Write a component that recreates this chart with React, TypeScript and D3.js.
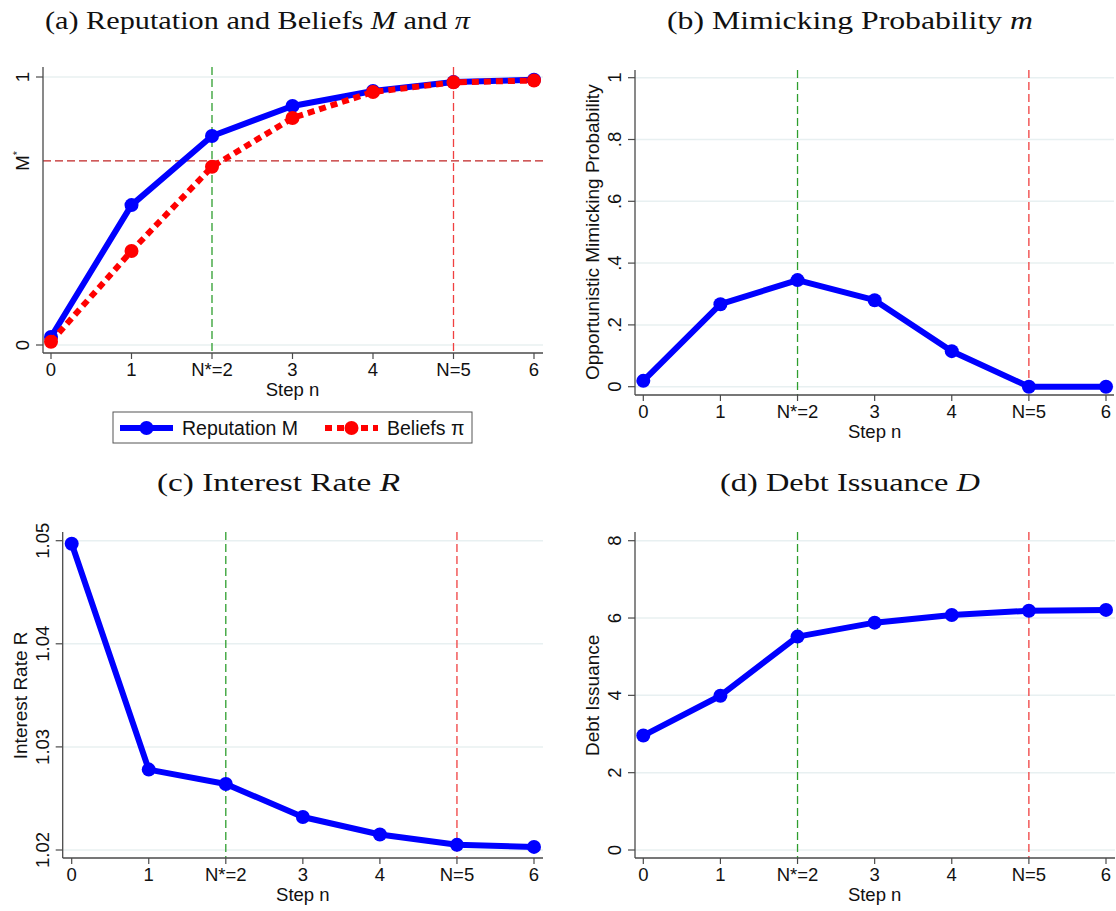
import React from "react";
import * as d3 from "d3";

const steps = [0, 1, 2, 3, 4, 5, 6];
const stepLabels = ["0", "1", "N*=2", "3", "4", "N=5", "6"];
const nStar = 2;
const nBig = 5;
const mStar = 0.687;

const reputationM = [0.03, 0.522, 0.78, 0.892, 0.948, 0.981, 0.99];
const beliefsPi = [0.012, 0.351, 0.665, 0.847, 0.944, 0.98, 0.987];
const mimickingProb = [0.019, 0.267, 0.345, 0.28, 0.115, 0.0, 0.0];
const interestRate = [1.0497, 1.0278, 1.0264, 1.0232, 1.0215, 1.0205, 1.0203];
const debtIssuance = [2.96, 3.99, 5.52, 5.88, 6.08, 6.19, 6.21];

const ticksA = [0, 1];
const ticksB = [0, 0.2, 0.4, 0.6, 0.8, 1];
const tickLabelsB = ["0", ".2", ".4", ".6", ".8", "1"];
const ticksC = [1.02, 1.03, 1.04, 1.05];
const tickLabelsC = ["1.02", "1.03", "1.04", "1.05"];
const ticksD = [0, 2, 4, 6, 8];

const SANS = "'Liberation Sans', Arial, Helvetica, sans-serif";
const SERIF = "'Liberation Serif', 'Times New Roman', serif";
const BLUE = "#0000ff";
const RED = "#ff0000";
const GREEN = "#2e9e2e";
const GRID = "#e8f0f1";
const AXIS = "#4a4a4a";

type Series = { values: number[]; color: string; dash?: string };

type PanelProps = {
  left: number; right: number; top: number; bottom: number;
  x0: number; x6: number; yPx: [number, number]; yDom: [number, number];
  yTicks: number[]; yTickLabels: string[]; series: Series[];
  yTitle?: string; grid: number[]; mStarLine?: number;
};

function Panel(p: PanelProps) {
  const x = d3.scaleLinear().domain([0, 6]).range([p.x0, p.x6]);
  const y = d3.scaleLinear().domain(p.yDom).range(p.yPx);
  const line = d3.line<number>().x((_, i) => x(steps[i])).y((v) => y(v));
  const tickLX = p.left - 14;
  const yMid = (p.yPx[0] + p.yPx[1]) / 2;
  return (
    <g>
      {p.grid.map((t, i) => (
        <line key={"g" + i} x1={p.left} x2={p.right} y1={y(t)} y2={y(t)} stroke={GRID} strokeWidth={1.5} />
      ))}
      {p.mStarLine !== undefined && (
        <line x1={p.left} x2={p.right} y1={y(p.mStarLine)} y2={y(p.mStarLine)} stroke="#c02424" strokeWidth={1.2} strokeDasharray="8,4" />
      )}
      <line x1={x(nStar)} x2={x(nStar)} y1={p.top} y2={p.bottom} stroke={GREEN} strokeWidth={1.3} strokeDasharray="8,4" />
      <line x1={x(nBig)} x2={x(nBig)} y1={p.top} y2={p.bottom} stroke="#f04040" strokeWidth={1.3} strokeDasharray="8,4" />
      <line x1={p.left} x2={p.left} y1={p.top} y2={p.bottom} stroke={AXIS} strokeWidth={1.3} />
      <line x1={p.left} x2={p.right} y1={p.bottom} y2={p.bottom} stroke={AXIS} strokeWidth={1.3} />
      {p.yTicks.map((t, i) => (
        <g key={"yt" + i}>
          <line x1={p.left - 7} x2={p.left} y1={y(t)} y2={y(t)} stroke={AXIS} strokeWidth={1.2} />
          <text transform={`translate(${tickLX},${y(t)}) rotate(-90)`} textAnchor="middle" fontFamily={SANS} fontSize={18.5} fill="#111">
            {p.yTickLabels[i]}
          </text>
        </g>
      ))}
      {p.mStarLine !== undefined && (
        <text transform={`translate(${tickLX},${y(p.mStarLine)}) rotate(-90)`} textAnchor="middle" fontFamily={SANS} fontSize={18.5} fill="#111">
          M<tspan fontSize={11} dy={-8}>*</tspan>
        </text>
      )}
      {steps.map((s, i) => (
        <g key={"xt" + i}>
          <line x1={x(s)} x2={x(s)} y1={p.bottom} y2={p.bottom + 6} stroke={AXIS} strokeWidth={1.2} />
          <text x={x(s)} y={p.bottom + 23} textAnchor="middle" fontFamily={SANS} fontSize={18.5} fill="#111">
            {stepLabels[i]}
          </text>
        </g>
      ))}
      <text x={(p.x0 + p.x6) / 2} y={p.bottom + 43} textAnchor="middle" fontFamily={SANS} fontSize={18.5} fill="#111">
        Step n
      </text>
      {p.yTitle && (
        <text transform={`translate(${p.left - 36},${yMid}) rotate(-90)`} textAnchor="middle" fontFamily={SANS} fontSize={19} fill="#111">
          {p.yTitle}
        </text>
      )}
      {p.series.map((s, k) => (
        <g key={"s" + k}>
          <path d={line(s.values) || ""} fill="none" stroke={s.color} strokeWidth={6} strokeDasharray={s.dash} strokeLinejoin="round" />
          {s.values.map((v, i) => (
            <circle key={i} cx={x(steps[i])} cy={y(v)} r={7} fill={s.color} />
          ))}
        </g>
      ))}
    </g>
  );
}

function Title({ x, y, len, parts }: { x: number; y: number; len: number; parts: [string, boolean][] }) {
  return (
    <text x={x} y={y} fontFamily={SERIF} fontSize={26} fill="#111" textLength={len} lengthAdjust="spacingAndGlyphs">
      {parts.map(([t, it], i) => (
        <tspan key={i} fontStyle={it ? "italic" : "normal"}>{t}</tspan>
      ))}
    </text>
  );
}

export default function App() {
  return (
    <svg width={1116} height={911} style={{ position: "absolute", left: 0, top: 0, background: "#fff" }}>
      <rect width={1116} height={911} fill="#fff" />
      <Title x={45} y={29} len={425} parts={[["(a) Reputation and Beliefs ", false], ["M", true], [" and ", false], ["π", true]]} />
      <Title x={667} y={29} len={366} parts={[["(b) Mimicking Probability ", false], ["m", true]]} />
      <Title x={157} y={491} len={243} parts={[["(c) Interest Rate ", false], ["R", true]]} />
      <Title x={720} y={491} len={260} parts={[["(d) Debt Issuance ", false], ["D", true]]} />

      <Panel left={43} right={543} top={67} bottom={353} x0={51} x6={534} yPx={[345, 77]} yDom={[0, 1]}
        yTicks={ticksA} yTickLabels={["0", "1"]} grid={ticksA} mStarLine={mStar}
        series={[{ values: reputationM, color: BLUE }, { values: beliefsPi, color: RED, dash: "7,5" }]} />
      <Panel left={635} right={1114} top={70} bottom={395} x0={643.3} x6={1106} yPx={[386.7, 77.7]} yDom={[0, 1]}
        yTicks={ticksB} yTickLabels={tickLabelsB} grid={ticksB} yTitle="Opportunistic Mimicking Probability"
        series={[{ values: mimickingProb, color: BLUE }]} />
      <Panel left={62.7} right={543} top={532} bottom={858} x0={71.7} x6={534} yPx={[850, 540.7]} yDom={[1.02, 1.05]}
        yTicks={ticksC} yTickLabels={tickLabelsC} grid={ticksC} yTitle="Interest Rate R"
        series={[{ values: interestRate, color: BLUE }]} />
      <Panel left={635} right={1115} top={532} bottom={858} x0={643.3} x6={1106} yPx={[850, 540.7]} yDom={[0, 8]}
        yTicks={ticksD} yTickLabels={ticksD.map(String)} grid={ticksD} yTitle="Debt Issuance"
        series={[{ values: debtIssuance, color: BLUE }]} />

      <rect x={113} y={412} width={359} height={31} fill="#fff" stroke="#555" strokeWidth={1} />
      <line x1={120} x2={173} y1={428} y2={428} stroke={BLUE} strokeWidth={6} />
      <circle cx={146.5} cy={428} r={7} fill={BLUE} />
      <text x={182} y={434.5} fontFamily={SANS} fontSize={19.5} fill="#111">Reputation M</text>
      <line x1={325} x2={378} y1={428} y2={428} stroke={RED} strokeWidth={6} strokeDasharray="7,5" />
      <circle cx={351.5} cy={428} r={7} fill={RED} />
      <text x={387} y={434.5} fontFamily={SANS} fontSize={19.5} fill="#111">Beliefs π</text>
    </svg>
  );
}
